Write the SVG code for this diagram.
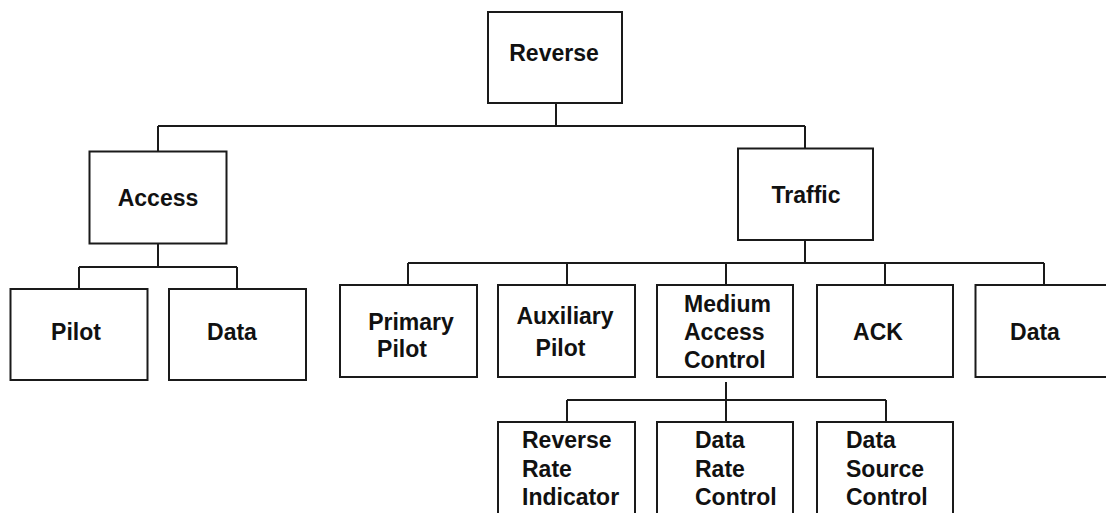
<svg xmlns="http://www.w3.org/2000/svg" width="1106" height="513" viewBox="0 0 1106 513">
<style>
  .box { fill: #ffffff; stroke: #1a1a1a; stroke-width: 2; }
  .lbl { font-family: "Liberation Sans", Arial, sans-serif; font-weight: bold; font-size: 23px; fill: #111111; }
  .mid { text-anchor: middle; }
  .conn { fill: none; stroke: #1a1a1a; stroke-width: 2; }
</style>
<rect x="0" y="0" width="1106" height="513" fill="#ffffff"/>
<g id="connectors">
  <path class="conn" d="M556 103 V126 M158 126 H805 M158 126 V151 M805 126 V148"/>
  <path class="conn" d="M158 244 V267 M79 267 H237 M79 267 V289 M237 267 V289"/>
  <path class="conn" d="M805 240 V263 M408 263 H1044 M408 263 V285 M567 263 V285 M726 263 V285 M885 263 V285 M1044 263 V285"/>
  <path class="conn" d="M726 382 V422 M567 400 H886 M567 400 V422 M886 400 V422"/>
</g>
<g id="reverse">
  <rect class="box" x="488" y="12" width="134" height="91"/>
  <text class="lbl mid" x="554" y="61">Reverse</text>
</g>
<g id="access">
  <rect class="box" x="89.5" y="151.5" width="137" height="92"/>
  <text class="lbl mid" x="158" y="206">Access</text>
</g>
<g id="traffic">
  <rect class="box" x="738" y="148.5" width="135" height="91.5"/>
  <text class="lbl mid" x="806" y="203">Traffic</text>
</g>
<g id="access-pilot">
  <rect class="box" x="10.5" y="289" width="137" height="91"/>
  <text class="lbl mid" x="76" y="340">Pilot</text>
</g>
<g id="access-data">
  <rect class="box" x="169" y="289" width="137" height="91"/>
  <text class="lbl mid" x="232" y="340">Data</text>
</g>
<g id="primary-pilot">
  <rect class="box" x="340" y="285" width="137" height="92"/>
  <text class="lbl mid" x="411" y="330">Primary</text>
  <text class="lbl mid" x="402" y="357">Pilot</text>
</g>
<g id="auxiliary-pilot">
  <rect class="box" x="498" y="285" width="137" height="92"/>
  <text class="lbl mid" x="565" y="324">Auxiliary</text>
  <text class="lbl mid" x="560.5" y="356">Pilot</text>
</g>
<g id="mac">
  <rect class="box" x="657" y="285" width="136" height="92"/>
  <text class="lbl" x="684" y="312">Medium</text>
  <text class="lbl" x="684" y="340">Access</text>
  <text class="lbl" x="684" y="368">Control</text>
</g>
<g id="ack">
  <rect class="box" x="817" y="285" width="136" height="92"/>
  <text class="lbl mid" x="878" y="340">ACK</text>
</g>
<g id="traffic-data">
  <rect class="box" x="975.5" y="285" width="150" height="92"/>
  <text class="lbl mid" x="1035" y="340">Data</text>
</g>
<g id="rri">
  <rect class="box" x="498" y="422" width="137" height="100"/>
  <text class="lbl" x="522" y="448">Reverse</text>
  <text class="lbl" x="522" y="477">Rate</text>
  <text class="lbl" x="522" y="505">Indicator</text>
</g>
<g id="drc">
  <rect class="box" x="657" y="422" width="136" height="100"/>
  <text class="lbl" x="695" y="448">Data</text>
  <text class="lbl" x="695" y="477">Rate</text>
  <text class="lbl" x="695" y="505">Control</text>
</g>
<g id="dsc">
  <rect class="box" x="817" y="422" width="136" height="100"/>
  <text class="lbl" x="846" y="448">Data</text>
  <text class="lbl" x="846" y="477">Source</text>
  <text class="lbl" x="846" y="505">Control</text>
</g>
</svg>
